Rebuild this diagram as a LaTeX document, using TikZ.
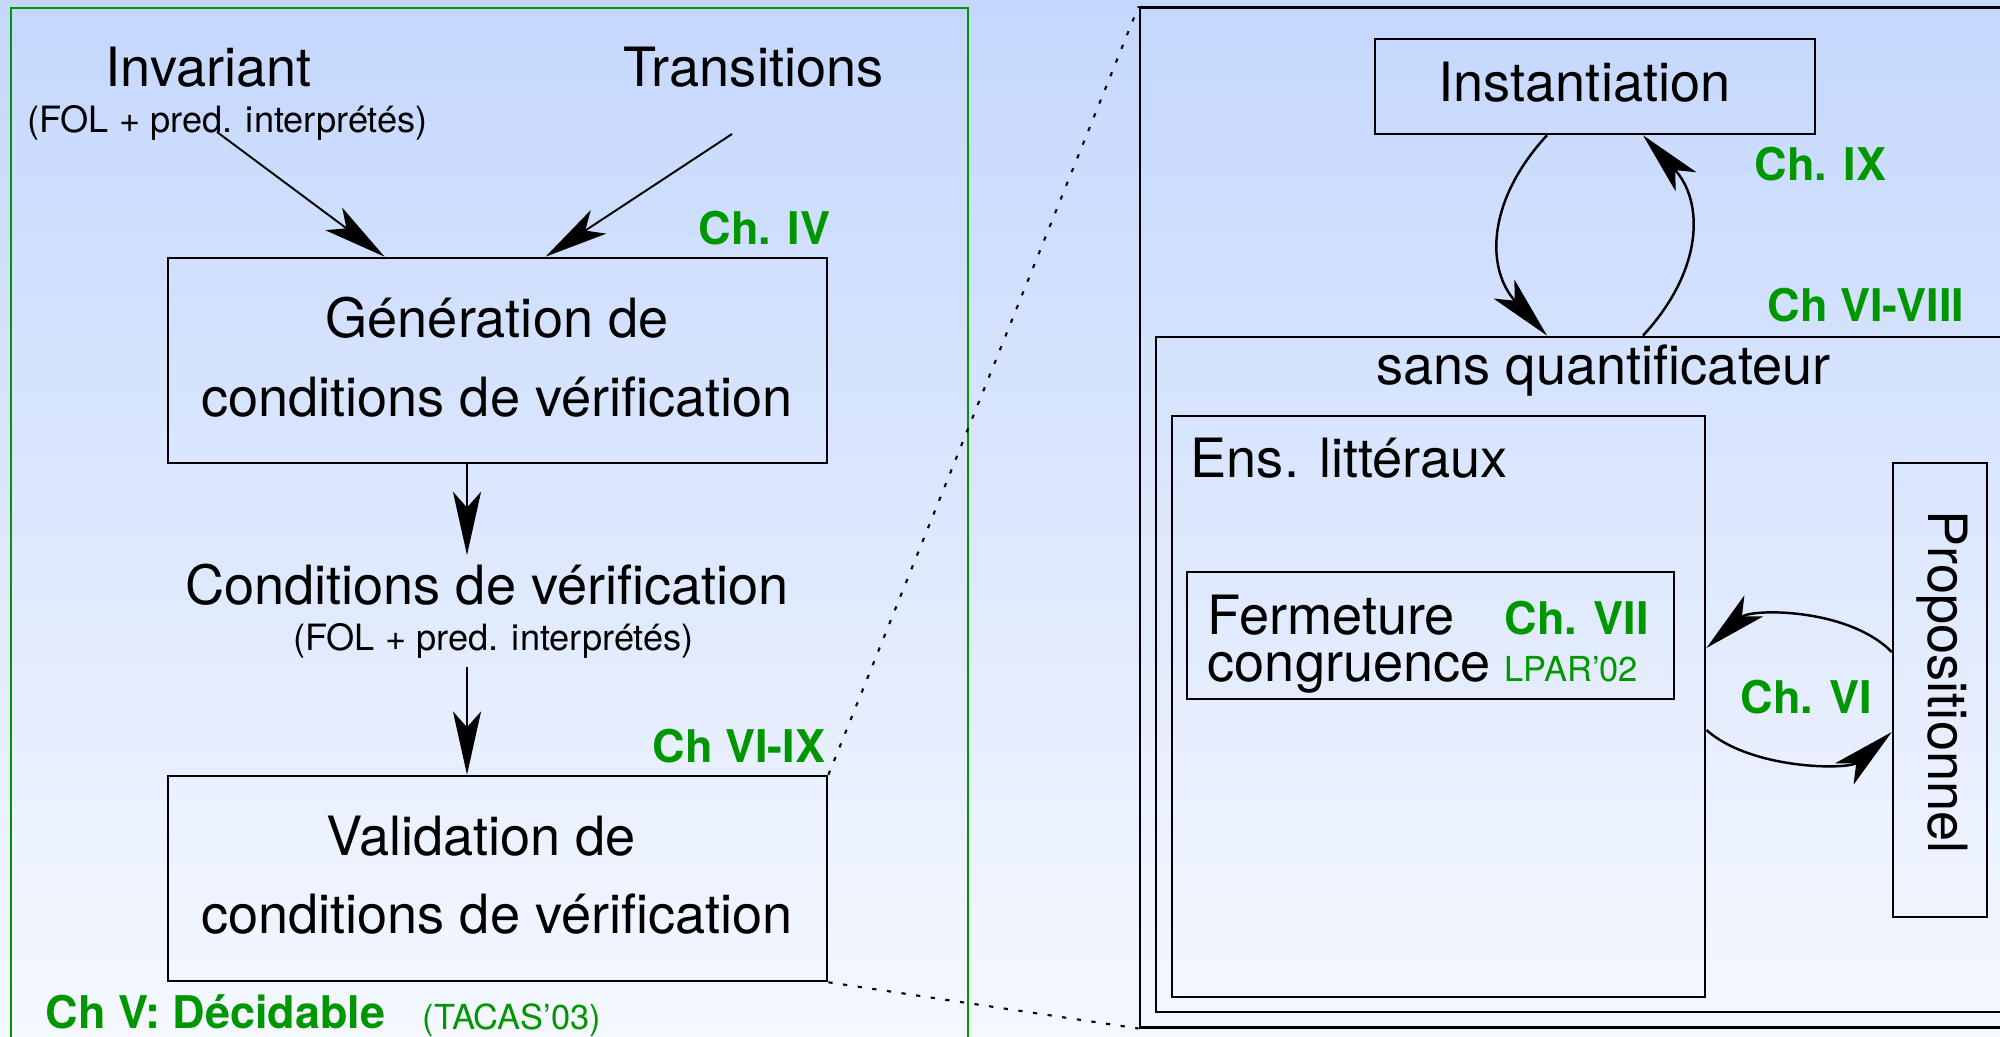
\documentclass[tikz,border=0pt]{standalone}
\usepackage{fontspec}
\setmainfont{TeX Gyre Heros}
\usetikzlibrary{arrows.meta,calc}
\definecolor{chgreen}{RGB}{0,150,0}
\definecolor{bgtop}{RGB}{196,215,253}
\definecolor{bgbot}{RGB}{245,248,255}
\tikzset{
  lbl/.style={inner sep=0pt, font=\fontsize{15.4}{18}\selectfont},
  small/.style={inner sep=0pt, font=\fontsize{10.3}{12}\selectfont},
  ch/.style={inner sep=0pt, text=chgreen, font=\fontsize{12.8}{15}\selectfont\bfseries},
  chsmall/.style={inner sep=0pt, text=chgreen, font=\fontsize{9.8}{12}\selectfont},
  box/.style={draw, line width=0.7pt, inner sep=0pt},
  frame/.style={draw=chgreen, line width=0.5pt, inner sep=0pt},
  arr/.style={-{Stealth[length=18pt,width=8pt,inset=4.5pt]}, line width=0.55pt},
  carr/.style={arr, line width=0.7pt},
  dotline/.style={line width=0.6pt, dash pattern=on 1.2pt off 3pt}
}
\begin{document}
\begin{tikzpicture}[x=0.01cm,y=-0.01cm]
\useasboundingbox (0,0) rectangle (2000,1037);
\clip (0,0) rectangle (2000,1037);
\shade[top color=bgtop, bottom color=bgbot] (0,0) rectangle (2000,1037);

% left panel: verification condition pipeline
\node[frame, minimum width=9.565cm, minimum height=10.52cm] (panel) at (489.75,534) {};
\node[lbl, anchor=base] (inv) at (208.5,87) {Invariant};
\node[small, anchor=base] (invfol) at (227.5,133) {(FOL + pred. interprétés)};
\node[lbl, anchor=base] (trans) at (753.5,87) {Transitions};
\node[box, minimum width=6.59cm, minimum height=2.05cm] (gen) at (497.5,360.5) {};
\node[lbl, anchor=base] (gen1) at (497,338) {Génération de};
\node[lbl, anchor=base] (gen2) at (497,417) {conditions de vérification};
\node[ch, anchor=base east] (chiv) at (831,245) {Ch. IV};
\node[lbl, anchor=base] (cond) at (487,605) {Conditions de vérification};
\node[small, anchor=base] (condfol) at (493.5,651) {(FOL + pred. interprétés)};
\node[ch, anchor=base east] (chvi) at (826,762) {Ch VI-IX};
\node[box, minimum width=6.59cm, minimum height=2.05cm] (val) at (497.5,878.5) {};
\node[lbl, anchor=base] (val1) at (481,855) {Validation de};
\node[lbl, anchor=base] (val2) at (497,933) {conditions de vérification};
\node[ch, anchor=base west] (chv) at (45,1028) {Ch V: Décidable};
\node[chsmall, anchor=base west] (tacas) at (422,1029) {(TACAS’03)};

\coordinate (invsrc) at (217,132);
\coordinate (transsrc) at (732,134);
\coordinate (condtop) at (467,555);
\coordinate (condbot) at (467,667);
\draw[arr] (invsrc) -- ($(gen.north west)+(218,0)$);
\draw[arr] (transsrc) -- ($(gen.north west)+(379,0)$);
\draw[arr] ($(gen.south)+(-30.5,0)$) -- (condtop);
\draw[arr] (condbot) -- ($(val.north)+(-30.5,0)$);

% right panel: decision procedure
\node[box, minimum width=9.00cm, minimum height=10.19cm] (outer) at (1590,517.5) {};
\node[box, minimum width=4.40cm, minimum height=0.95cm] (inst) at (1595,86.5) {};
\node[lbl, anchor=base] (insttxt) at (1584.5,102) {Instantiation};
\node[ch, anchor=base west] (chix) at (1754,181) {Ch. IX};
\node[ch, anchor=base east] (chviii) at (1965,322) {Ch VI-VIII};
\node[box, minimum width=8.84cm, minimum height=6.75cm] (sansq) at (1598,674.5) {};
\node[lbl, anchor=base] (sansqtxt) at (1603.5,385) {sans quantificateur};
\node[box, minimum width=5.33cm, minimum height=5.81cm] (ens) at (1438.5,706.5) {};
\node[lbl, anchor=base west] (enstxt) at (1190,478) {Ens. littéraux};
\node[box, minimum width=4.87cm, minimum height=1.27cm] (ferm) at (1430.5,635.5) {};
\node[lbl, anchor=base west] (ferm1) at (1207,635) {Fermeture};
\node[lbl, anchor=base west] (ferm2) at (1207,682) {congruence};
\node[ch, anchor=base west] (chvii) at (1504,635) {Ch. VII};
\node[chsmall, anchor=base west] (lpar) at (1504,682) {LPAR’02};
\node[box, minimum width=0.94cm, minimum height=4.54cm] (prop) at (1940,690) {};
\node[lbl, anchor=base, rotate=-90] (proptxt) at (1928,682) {Propositionnel};
\node[ch, anchor=base west] (chvi2) at (1740,713) {Ch. VI};

\draw[carr] ($(inst.south)+(-48,0)$) .. controls +(-61,66) and +(-61,-66) .. ($(sansq.north)+(-51,0)$);
\draw[carr] ($(sansq.north)+(45,0)$) .. controls +(61,-66) and +(61,66) .. ($(inst.south)+(48,0)$);
\draw[carr] ($(prop.west)+(0,-38)$) .. controls +(-43,-44) and +(45,-40) .. ($(ens.east)+(0,-58.5)$);
\draw[carr] ($(ens.east)+(0,23.5)$) .. controls +(45,40) and +(-43,38) .. ($(prop.west)+(0,42)$);

% zoom lines linking the two panels
\draw[dotline] (val.north east) -- (outer.north west);
\draw[dotline] (val.south east) -- (outer.south west);
\end{tikzpicture}
\end{document}
